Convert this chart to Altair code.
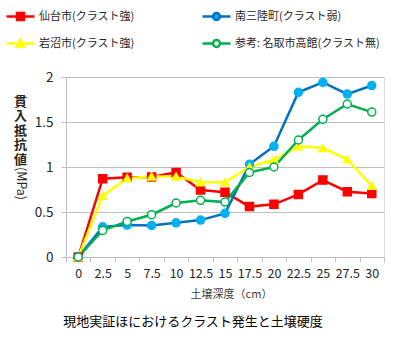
import altair as alt
import pandas as pd

depths = ["0", "2.5", "5", "7.5", "10", "12.5", "15", "17.5", "20", "22.5", "25", "27.5", "30"]
series = ["仙台市(クラスト強)", "南三陸町(クラスト弱)", "岩沼市(クラスト強)", "参考: 名取市高館(クラスト無)"]
sendai = [0, 0.87, 0.885, 0.89, 0.94, 0.745, 0.72, 0.56, 0.585, 0.695, 0.855, 0.725, 0.705]
minamisanriku = [0, 0.335, 0.355, 0.35, 0.38, 0.41, 0.485, 1.03, 1.23, 1.83, 1.94, 1.81, 1.905]
iwanuma = [0, 0.68, 0.875, 0.895, 0.895, 0.83, 0.83, 1.0, 1.08, 1.23, 1.21, 1.085, 0.79]
natori = [0, 0.295, 0.395, 0.47, 0.6, 0.63, 0.61, 0.94, 1.0, 1.3, 1.53, 1.70, 1.61]

line_colors = ["#FF0000", "#0070C0", "#FFFF00", "#00B050"]
marker_fill = ["#FF0000", "#00B0F0", "#FFFF00", "#FFFFFF"]
marker_stroke = ["#FF0000", "#00B0F0", "#FFFF00", "#00B050"]
marker_shapes = ["square", "circle", "triangle-up", "circle"]
legend_fill = ["#FF0000", "#00B0F0", "#FFFF00", "#FFFFFF"]
legend_stroke = ["#FF0000", "#0070C0", "#FFFF00", "#00B050"]
legend_paths = [
    "M-1,0H-0.25M0.25,0H1M-0.25,-0.25H0.25V0.25H-0.25Z",
    "M-1,0H-0.25M0.25,0H1M-0.25,0A0.25,0.25 0 1,0 0.25,0A0.25,0.25 0 1,0 -0.25,0Z",
    "M-1,0H-0.28M0.28,0H1M0,-0.28L0.28,0.22L-0.28,0.22Z",
    "M-1,0H-0.25M0.25,0H1M-0.25,0A0.25,0.25 0 1,0 0.25,0A0.25,0.25 0 1,0 -0.25,0Z",
]

rows = []
for name, vals in zip(series, [sendai, minamisanriku, iwanuma, natori]):
    for d, v in zip(depths, vals):
        rows.append({"depth": d, "value": v, "系列": name, "凡例": name})
df = pd.DataFrame(rows)

FONT = "Noto Sans CJK JP"

x = alt.X(
    "depth:O", sort=depths,
    scale=alt.Scale(type="band", paddingInner=0, paddingOuter=0),
    axis=alt.Axis(
        title="土壌深度（cm）", labelAngle=0, tickBand="extent", grid=False,
        domainColor="#BFBFBF", tickColor="#BFBFBF", tickSize=5,
        labelFontSize=12.5, labelPadding=5, labelColor="#262626", labelFont=FONT,
        titleFontSize=11, titleFont=FONT, titleFontWeight="normal", titleColor="#404040",
        titleX=165, titleY=37, titleBaseline="middle",
    ),
)

y_main = alt.Y(
    "value:Q", scale=alt.Scale(domain=[0, 2]),
    axis=alt.Axis(
        values=[0, 0.5, 1, 1.5, 2], format=".2~f",
        grid=True, gridColor="#BFBFBF", domainColor="#BFBFBF", tickColor="#BFBFBF", tickSize=5,
        labelFontSize=13.5, labelPadding=8, labelColor="#262626", labelFont=FONT,
        title=["貫", "入", "抵", "抗", "値"], titleAngle=0, titleFont=FONT, titleFontSize=13,
        titleFontWeight="bold", titleColor="#262626", titleLineHeight=14.5,
        titleX=-46, titleY=18, titleAlign="center", titleBaseline="top",
    ),
)

y_second = alt.Y(
    "value:Q", scale=alt.Scale(domain=[0, 2]),
    axis=alt.Axis(
        orient="left", values=[0, 0.5, 1, 1.5, 2], labels=False, ticks=False, domain=False, grid=False,
        title="(MPa)", titleAngle=90, titleFont=FONT, titleFontSize=12.5, titleFontWeight="normal",
        titleColor="#262626", titleX=-46, titleY=106, titleAlign="center", titleBaseline="middle",
    ),
)

lines = alt.Chart(df).mark_line(strokeWidth=2.5).encode(
    x=x, y=y_main,
    color=alt.Color("系列:N", scale=alt.Scale(domain=series, range=line_colors), legend=None),
    order=alt.Order("depth_idx:Q"),
).transform_calculate(depth_idx="indexof(" + str(depths) + ", datum.depth)")

points = alt.Chart(df).mark_point(strokeWidth=1.5, opacity=1, fillOpacity=1).encode(
    x=x, y=y_second,
    shape=alt.Shape("系列:N", scale=alt.Scale(domain=series, range=marker_shapes), legend=None),
    fill=alt.Fill("系列:N", scale=alt.Scale(domain=series, range=marker_fill), legend=None),
    stroke=alt.Stroke("系列:N", scale=alt.Scale(domain=series, range=marker_stroke), legend=None),
    size=alt.value(64),
)

leg = alt.Legend(
    title=None, orient="none", legendX=-61, legendY=-76, columns=2, direction="horizontal",
    symbolSize=784, symbolStrokeWidth=2.5, symbolOpacity=1,
    labelFont=FONT, labelFontSize=11, labelColor="#262626", labelOffset=3,
    columnPadding=62, rowPadding=3, labelLimit=300,
)

legend_layer = alt.Chart(df).mark_point(opacity=0).encode(
    x=x, y=alt.Y("value:Q", scale=alt.Scale(domain=[0, 2]), axis=None),
    shape=alt.Shape("凡例:N", scale=alt.Scale(domain=series, range=legend_paths), legend=leg),
    fill=alt.Fill("凡例:N", scale=alt.Scale(domain=series, range=legend_fill), legend=leg),
    stroke=alt.Stroke("凡例:N", scale=alt.Scale(domain=series, range=legend_stroke), legend=leg),
)

chart = alt.layer(lines, legend_layer, points).resolve_scale(
    shape="independent", fill="independent", stroke="independent"
).resolve_axis(y="independent").properties(
    width=318, height=180,
    autosize=alt.AutoSizeParams(type="none"),
    padding={"left": 66, "top": 77, "right": 16, "bottom": 83},
    title=alt.TitleParams(
        "現地実証ほにおけるクラスト発生と土壌硬度", orient="bottom", anchor="middle",
        fontSize=13, fontWeight="normal", font=FONT, color="#000000", dx=-32, offset=17,
    ),
).configure_view(stroke=None).configure(background="white")

chart.save("out.html", embed_options={"renderer": "svg", "actions": False})
